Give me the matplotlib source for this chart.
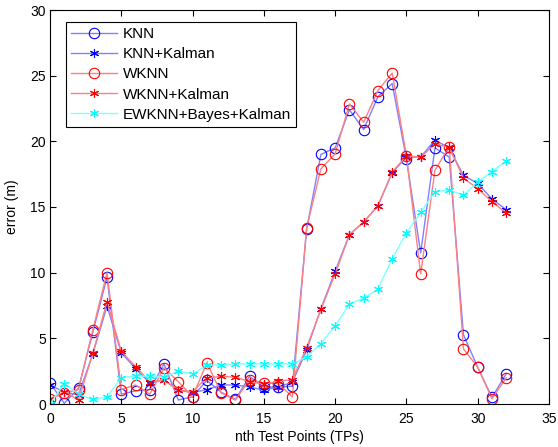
import numpy as np
import matplotlib
matplotlib.use("Agg")
import matplotlib.pyplot as plt

plt.rcParams['font.family'] = ['Liberation Sans', 'DejaVu Sans']

tp = np.arange(33)

knn = [1.6, 0.05, 1.2, 5.45, 9.65, 0.75, 1.0, 1.1, 3.05, 0.3, 0.55, 1.8, 0.9, 0.35, 2.1, 1.3, 1.3, 1.35,
       13.3, 19.0, 19.5, 22.4, 20.9, 23.4, 24.4, 18.65, 11.5, 19.5, 18.8, 5.27, 2.8, 0.5, 2.3]
knn_kal = [1.45, 0.9, 0.7, 3.8, 7.45, 3.9, 2.7, 1.6, 1.85, 1.05, 0.85, 1.1, 1.45, 1.45, 1.3, 1.05, 1.3, 1.65,
           4.1, 7.25, 10.1, 12.9, 13.85, 15.1, 17.6, 18.8, 18.8, 20.1, 19.5, 17.4, 16.8, 15.6, 14.8]
wknn = [0.35, 0.85, 1.1, 5.65, 10.0, 1.1, 1.45, 0.75, 2.75, 1.7, 0.55, 3.15, 0.85, 0.3, 1.85, 1.6, 1.55, 0.55,
        13.4, 17.9, 19.05, 22.85, 21.45, 23.87, 25.2, 18.9, 9.9, 17.8, 19.6, 4.2, 2.8, 0.4, 2.0]
wknn_kal = [0.4, 0.95, 0.3, 3.85, 7.8, 4.0, 2.85, 1.7, 1.8, 1.05, 0.95, 2.0, 2.1, 2.05, 1.7, 1.5, 1.75, 1.85,
            4.3, 7.2, 9.9, 12.9, 13.85, 15.1, 17.65, 18.9, 18.8, 19.8, 19.55, 17.2, 16.4, 15.4, 14.55]
ewknn = [0.0, 1.55, 0.75, 0.35, 0.55, 2.0, 2.15, 2.1, 2.05, 2.5, 2.3, 2.95, 3.0, 3.05, 3.05, 3.05, 3.05, 3.05,
         3.6, 4.6, 5.95, 7.6, 8.05, 8.75, 11.07, 13.0, 14.6, 16.15, 16.3, 15.9, 16.9, 17.7, 18.5]

names = ['KNN', 'KNN+Kalman', 'WKNN', 'WKNN+Kalman', 'EWKNN+Bayes+Kalman']

fig = plt.figure(figsize=(5.58, 4.47), dpi=100)
ax = fig.add_axes([50 / 558, 1 - 404 / 447, 499 / 558, 394 / 447])

ast = (6, 2, 0)
series = [
    (knn, 'o', '#0000ff', '#8080ff'),
    (knn_kal, ast, '#0000ff', '#8080ff'),
    (wknn, 'o', '#ff0000', '#ff8080'),
    (wknn_kal, ast, '#ff0000', '#ff8080'),
    (ewknn, ast, '#00ffff', '#80ffff'),
]
for (vals, mk, mc, lc), name in zip(series, names):
    ax.plot(tp, vals, color=lc, lw=1.0, marker=mk, markersize=7.5 if mk == 'o' else 6.5,
            markerfacecolor='none', markeredgecolor=mc, markeredgewidth=0.8, label=name)

ax.set_xlim(0, 35)
ax.set_ylim(0, 30)
ax.set_xticks(range(0, 36, 5))
ax.set_yticks(range(0, 31, 5))
ax.tick_params(direction='in', labelsize=10, top=True, right=True, length=4)
ax.tick_params(axis='x', pad=6)
ax.tick_params(axis='y', pad=3)
for s in ax.spines.values():
    s.set_linewidth(0.8)
ax.set_xlabel('nth Test Points (TPs)', fontsize=10, labelpad=3)
ax.set_ylabel('error (m)', fontsize=10, labelpad=8)

leg = ax.legend(loc='upper left', bbox_to_anchor=(0.032, 0.970), borderaxespad=0, fontsize=11,
                fancybox=False, edgecolor='black', framealpha=1, handlelength=3.0,
                handletextpad=0.35, borderpad=0.35, labelspacing=0.4)
leg.get_frame().set_linewidth(0.8)

fig.savefig('out.png', dpi=100)
